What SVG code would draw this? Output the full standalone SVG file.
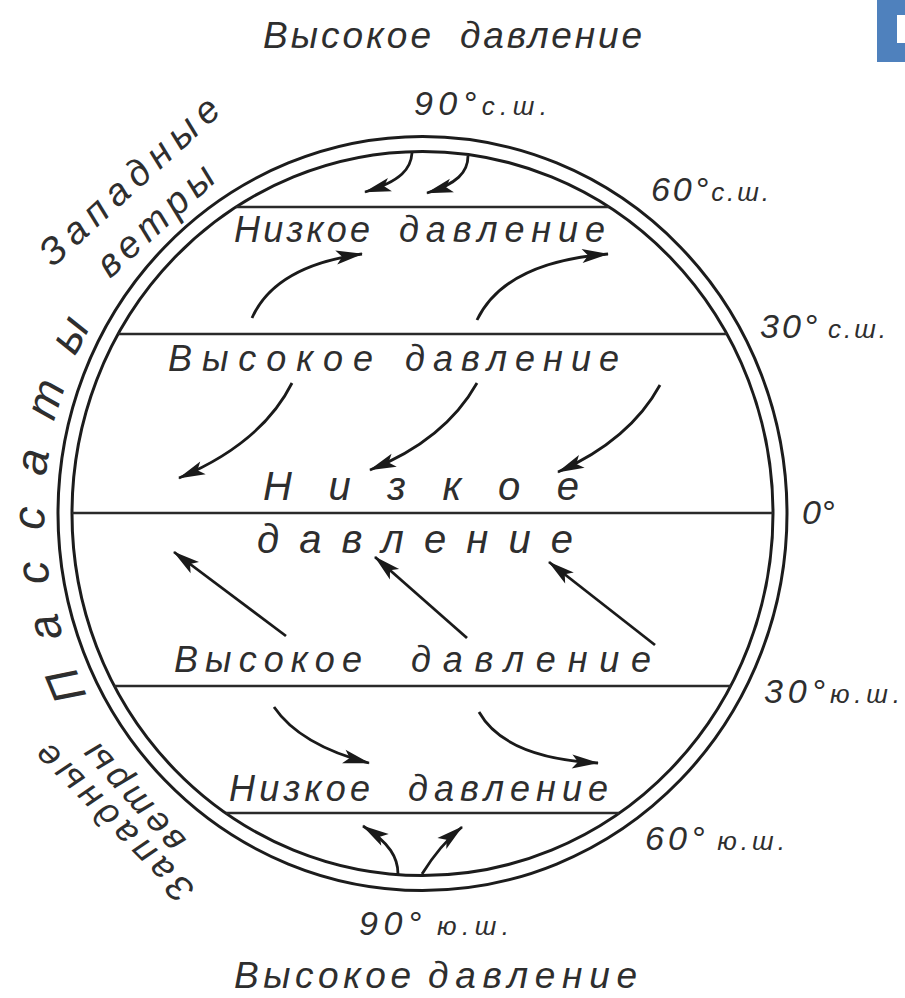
<svg xmlns="http://www.w3.org/2000/svg" width="905" height="998" viewBox="0 0 905 998">
<style>
.t{font-family:"Liberation Sans","DejaVu Sans",sans-serif;font-style:italic;fill:#2e2e2e;}
.m{font-size:36px;}
.d{font-size:34px;}
.s{font-size:26px;}
.ring{fill:none;stroke:#1c1c1c;stroke-width:3;}
.chord{stroke:#2a2a2a;stroke-width:2.6;fill:none;}
.arr{fill:none;stroke:#1a1a1a;stroke-width:2.8;marker-end:url(#ah);}
</style>
<defs>
<marker id="ah" markerUnits="userSpaceOnUse" markerWidth="34" markerHeight="20" viewBox="-30 -10 32 20" refX="0" refY="0" orient="auto">
<path d="M1,0 L-26,-7 L-20,0 L-26,7 Z" fill="#1a1a1a"/>
</marker>
<path id="passPath" d="M87.9,695 A378,390 0 0 1 106.2,300"/>
</defs>
<rect width="905" height="998" fill="#fff"/>
<g id="slide-corner">
<rect x="877" y="0" width="28" height="62" fill="#4f81bd"/>
<rect x="897" y="15" width="8" height="28" fill="#fff"/>
</g>
<g id="globe">
<ellipse class="ring" cx="422.5" cy="513.5" rx="364.5" ry="377"/>
<ellipse class="ring" cx="422.5" cy="513.5" rx="350.5" ry="362"/>
</g>
<g id="latitude-lines">
<line class="chord" x1="236" y1="207" x2="609" y2="207"/>
<line class="chord" x1="118" y1="334" x2="727" y2="334"/>
<line class="chord" x1="72" y1="513" x2="773" y2="513"/>
<line class="chord" x1="114" y1="686" x2="731" y2="686"/>
<line class="chord" x1="226" y1="813" x2="619" y2="813"/>
</g>
<g id="connectors">
<path class="arr" d="M412,153 C411,168 402,181 365,192"/>
<path class="arr" d="M468,156 C468,172 457,184 427,193"/>
<path class="arr" d="M252,318 Q275,266 362,254"/>
<path class="arr" d="M477,320 Q505,262 608,254"/>
<path class="arr" d="M292,383 Q262,443 179,478"/>
<path class="arr" d="M477,383 Q445,440 370,470"/>
<path class="arr" d="M660,385 Q630,440 558,472"/>
<path class="arr" d="M286,636 L174,552"/>
<path class="arr" d="M467,638 L375,557"/>
<path class="arr" d="M655,645 L549,562"/>
<path class="arr" d="M274,707 Q300,745 369,763"/>
<path class="arr" d="M479,712 Q505,758 598,763"/>
<path class="arr" d="M398,874 C398,858 390,843 363,826"/>
<path class="arr" d="M422,874 Q440,845 462,827"/>
</g>
<g id="label-top-high">
<text class="t" y="48" font-size="37"><tspan x="263" textLength="168" lengthAdjust="spacing">Высокое</tspan> <tspan x="460" textLength="182" lengthAdjust="spacing">давление</tspan></text>
</g>
<g id="label-90n">
<text class="t" x="414" y="115" textLength="133" lengthAdjust="spacing"><tspan class="d">90°</tspan><tspan class="s">с.ш.</tspan></text>
</g>
<g id="label-60n">
<text class="t" x="651" y="201" textLength="118" lengthAdjust="spacing"><tspan class="d">60°</tspan><tspan class="s">с.ш.</tspan></text>
</g>
<g id="label-30n">
<text class="t" x="760" y="338" textLength="126" lengthAdjust="spacing"><tspan class="d">30°</tspan> <tspan class="s">с.ш.</tspan></text>
</g>
<g id="label-0">
<text class="t d" x="802" y="524">0°</text>
</g>
<g id="label-30s">
<text class="t" x="764" y="703" textLength="136" lengthAdjust="spacing"><tspan class="d">30°</tspan><tspan class="s">ю.ш.</tspan></text>
</g>
<g id="label-60s">
<text class="t" x="645" y="850" textLength="140" lengthAdjust="spacing"><tspan class="d">60°</tspan> <tspan class="s">ю.ш.</tspan></text>
</g>
<g id="label-90s">
<text class="t" x="359" y="935" textLength="150" lengthAdjust="spacing"><tspan class="d">90°</tspan> <tspan class="s">ю.ш.</tspan></text>
</g>
<g id="label-bottom-high">
<text class="t" y="988" font-size="37"><tspan x="234" textLength="177" lengthAdjust="spacing">Высокое</tspan> <tspan x="428" textLength="209" lengthAdjust="spacing">давление</tspan></text>
</g>
<g id="zone-low-60n">
<text class="t m" y="242"><tspan x="234" textLength="136" lengthAdjust="spacing">Низкое</tspan> <tspan x="399" textLength="206" lengthAdjust="spacing">давление</tspan></text>
</g>
<g id="zone-high-30n">
<text class="t m" y="371"><tspan x="168" textLength="205" lengthAdjust="spacing">Высокое</tspan> <tspan x="405" textLength="214" lengthAdjust="spacing">давление</tspan></text>
</g>
<g id="zone-low-eq">
<text class="t" font-size="40"><tspan x="263" y="500" textLength="316" lengthAdjust="spacing">Низкое</tspan> <tspan x="257" y="553" textLength="316" lengthAdjust="spacing">давление</tspan></text>
</g>
<g id="zone-high-30s">
<text class="t m" y="672"><tspan x="174" textLength="188" lengthAdjust="spacing">Высокое</tspan> <tspan x="411" textLength="240" lengthAdjust="spacing">давление</tspan></text>
</g>
<g id="zone-low-60s">
<text class="t m" y="801"><tspan x="229" textLength="141" lengthAdjust="spacing">Низкое</tspan> <tspan x="408" textLength="200" lengthAdjust="spacing">давление</tspan></text>
</g>
<g id="label-westerlies-north">
<text class="t" font-size="38" transform="translate(53,268) rotate(-42.5)" textLength="230" lengthAdjust="spacing">Западные</text>
<text class="t" font-size="38" transform="translate(110,279) rotate(-42.5)" textLength="146" lengthAdjust="spacing">ветры</text>
</g>
<g id="label-trade-winds">
<text class="t" font-size="46"><textPath href="#passPath" letter-spacing="30">Пассаты</textPath></text>
</g>
<g id="label-westerlies-south">
<text class="t" font-size="36" transform="translate(196,888) rotate(225)" textLength="208" lengthAdjust="spacing">Западные</text>
<text class="t" font-size="36" transform="translate(187,840) rotate(228)" textLength="134" lengthAdjust="spacing">ветры</text>
</g>
</svg>
